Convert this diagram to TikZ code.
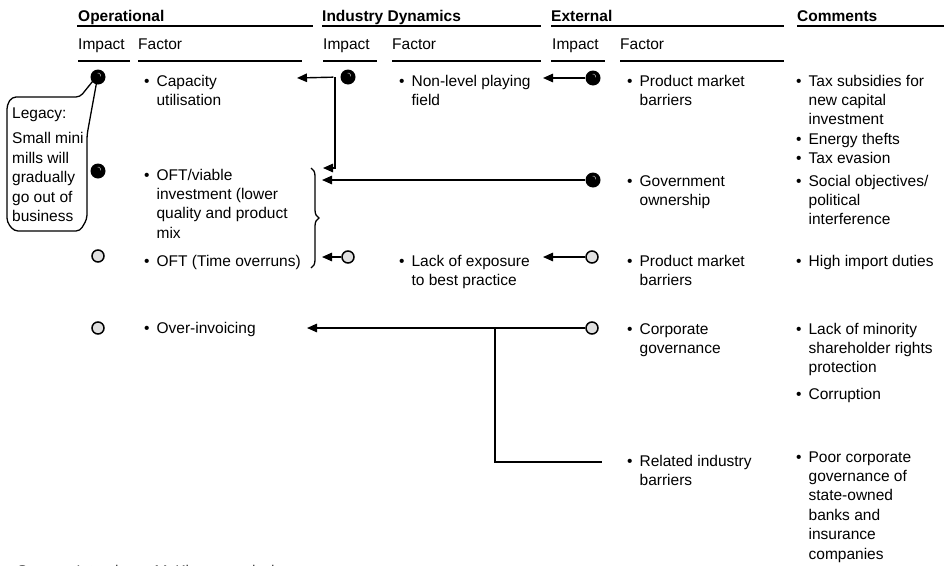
\documentclass[tikz,border=0pt]{standalone}
\usepackage{fontspec}
\setmainfont{Liberation Sans}
\usetikzlibrary{arrows.meta,decorations.pathreplacing}
% bullet item: bullet in its own column, wrapped lines aligned with the text
\newcommand\itm[1]{\begin{tabular}[t]{@{}l@{\hspace{7pt}}l@{}}\textbullet&#1\end{tabular}}
\begin{document}
\begin{tikzpicture}[x=1pt,y=-1pt,
  txt/.style={anchor=base west, inner sep=0pt, font=\fontsize{15.5}{19.4}\selectfont},
  hdr/.style={txt, font=\fontsize{15.5}{19.4}\selectfont\bfseries},
  rule/.style={line width=1.3pt},
  fdot/.style={circle, fill=black, minimum size=15pt, inner sep=0pt,
    path picture={\draw[black!45, line width=0.7pt]
      ([shift={(2.6,-0.6)}]path picture bounding box.center)
      arc[start angle=-20, end angle=110, radius=2.4pt];}},
  hdot/.style={circle, draw, line width=1.5pt, fill=black!12, minimum size=12pt, inner sep=0pt},
  conn/.style={line width=1.4pt, -{Triangle[length=10pt,width=8.5pt]}},
  plain/.style={line width=1.4pt},
  callout/.style={line width=1.3pt, rounded corners=4pt},
  bracestyle/.style={line width=1.3pt, decorate, decoration={brace, amplitude=8pt}}]
\useasboundingbox (0,0) rectangle (944,565);

% column headings
\node[hdr] (hop) at (78,21) {Operational};
\node[hdr] (hind) at (322,21) {Industry Dynamics};
\node[hdr] (hext) at (551,21) {External};
\node[hdr] (hcom) at (797,21) {Comments};
\draw[rule] (77,26) -- (313,26);
\draw[rule] (322,26) -- (541,26);
\draw[rule] (551,26) -- (784,26);
\draw[rule] (797,26) -- (944,26);

\node[txt] (sopi) at (78,49) {Impact};
\node[txt] (sopf) at (138,49) {Factor};
\node[txt] (sini) at (323,49) {Impact};
\node[txt] (sinf) at (392,49) {Factor};
\node[txt] (sexi) at (552,49) {Impact};
\node[txt] (sexf) at (620,49) {Factor};
\draw[rule] (78,61) -- (130,61);
\draw[rule] (138,61) -- (302,61);
\draw[rule] (323,61) -- (377,61);
\draw[rule] (392,61) -- (541,61);
\draw[rule] (551,61) -- (605,61);
\draw[rule] (620,61) -- (784,61);

% impact markers
\node[fdot] (o1) at (98,77) {};
\node[fdot] (o2) at (98,171) {};
\node[hdot] (o3) at (98,256) {};
\node[hdot] (o4) at (98,328) {};
\node[fdot] (i1) at (348,77) {};
\node[hdot] (i3) at (348,257) {};
\node[fdot] (e1) at (593,78) {};
\node[fdot] (e2) at (593,180) {};
\node[hdot] (e3) at (592,257) {};
\node[hdot] (e4) at (592,328) {};

% operational factors
\node[txt] (of1) at (144,86) {\itm{Capacity\\&utilisation}};
\node[txt] (of2) at (144,180) {\itm{OFT/viable\\&investment (lower\\&quality and product\\&mix}};
\node[txt] (of3) at (144,266) {\itm{OFT (Time overruns)}};
\node[txt] (of4) at (144,333) {\itm{Over-invoicing}};

% industry dynamics factors
\node[txt] (if1) at (399,86) {\itm{Non-level playing\\&field}};
\node[txt] (if3) at (399,266) {\itm{Lack of exposure\\&to best practice}};

% external factors
\node[txt] (ef1) at (627,86) {\itm{Product market\\&barriers}};
\node[txt] (ef2) at (627,186) {\itm{Government\\&ownership}};
\node[txt] (ef3) at (627,266) {\itm{Product market\\&barriers}};
\node[txt] (ef4) at (627,334) {\itm{Corporate\\&governance}};
\node[txt] (ef5) at (627,466) {\itm{Related industry\\&barriers}};

% comments
\node[txt] (c1) at (796,86) {\itm{Tax subsidies for\\&new capital\\&investment\\\textbullet&Energy thefts\\\textbullet&Tax evasion}};
\node[txt] (c2) at (796,186) {\itm{Social objectives/\\&political\\&interference}};
\node[txt] (c3) at (796,266) {\itm{High import duties}};
\node[txt] (c4) at (796,334) {\itm{Lack of minority\\&shareholder rights\\&protection\\[7pt]\textbullet&Corruption}};
\node[txt] (c5) at (796,462) {\itm{Poor corporate\\&governance of\\&state-owned\\&banks and\\&insurance\\&companies}};

% brace grouping the two OFT factors
\coordinate (brt) at (311,168);
\coordinate (brb) at (311,268);
\draw[bracestyle] (brt) -- (brb);

% links between factors
\coordinate (t1) at (297,78);
\coordinate (k1) at (335,77.3);
\coordinate (t2) at (323,168);
\draw[conn, shorten <=7pt] (i1.west) -- (t1);
\draw[conn] (k1) |- (t2);
\coordinate (t1e) at (543,78);
\draw[conn] (e1.west) -- (t1e);
\coordinate (t2e) at (322,180);
\draw[conn] (e2.west) -- (t2e);
\coordinate (t3i) at (322,257);
\draw[conn] (i3.west) -- (t3i);
\coordinate (t3e) at (543,257);
\draw[conn] (e3.west) -- (t3e);
\coordinate (t4) at (307,328);
\draw[conn] (e4.west) -- (t4);
\coordinate (j4) at (495,328);
\coordinate (r5) at (602,462);
\draw[plain] (j4) |- (r5);

% legacy callout pointing at the capacity marker
\draw[callout] (12,97) -- (80,97) -- ([yshift=10pt]o1.south) -- (87,135) -- (87,219) -- (80,231)
  -- (14,231) -- (7,222) -- (7,105) -- cycle;
\node[txt, align=left] (leg) at (12,118) {\begin{tabular}[t]{@{}l@{}}Legacy:\\[6.5pt]Small mini\\mills will\\gradually\\go out of\\business\end{tabular}};

% source line along the lower edge
\node[txt, text=black!75] (src) at (17,576) {Source: Interviews; McKinsey analysis};
\end{tikzpicture}
\end{document}
